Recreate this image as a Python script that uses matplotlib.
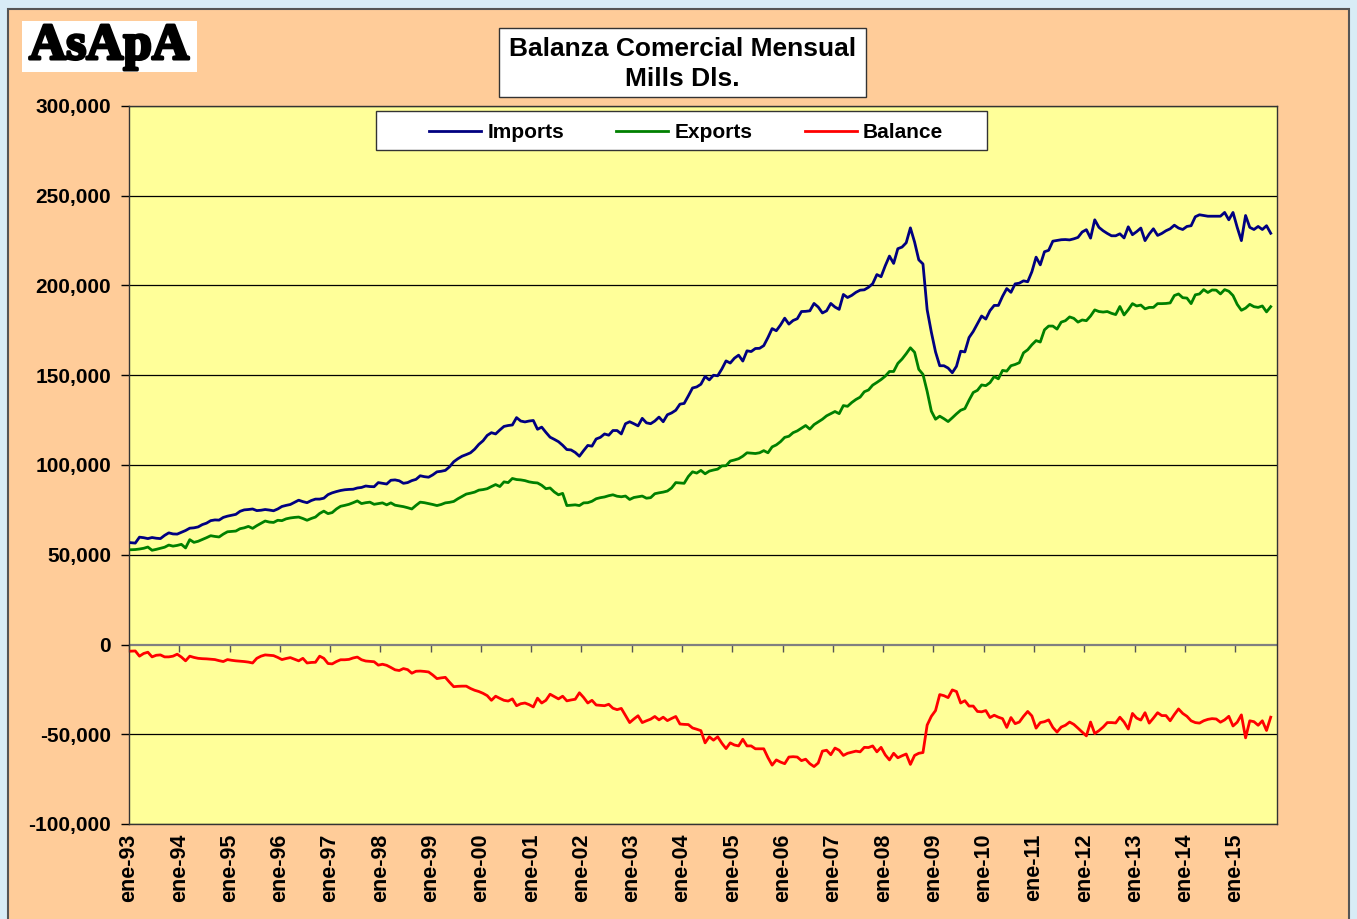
import numpy as np
import matplotlib
matplotlib.use("Agg")
import matplotlib.pyplot as plt
import matplotlib.patheffects as pe
from matplotlib.patches import Rectangle
from matplotlib.lines import Line2D
from matplotlib.ticker import FuncFormatter

# ---------------- data (thousands of millions USD, monthly from ene-93) ----------------
imports = [
    56.7, 56.5, 59.8, 59.5, 59.0, 59.6, 59.2, 59.0, 60.8, 62.2, 61.6, 61.5,
    62.5, 63.5, 64.8, 65.0, 65.5, 66.8, 67.6, 69.0, 69.4, 69.3, 70.8, 71.5,
    72.0, 72.5, 74.2, 75.0, 75.2, 75.5, 74.6, 74.8, 75.2, 74.9, 74.5, 75.5,
    76.9, 77.5, 78.0, 79.2, 80.4, 79.6, 79.0, 80.2, 81.0, 81.0, 81.5, 83.5,
    84.5, 85.2, 85.8, 86.2, 86.4, 86.5, 87.2, 87.5, 88.3, 88.0, 87.9, 90.2,
    89.8, 89.4, 91.5, 91.7, 91.2, 89.8, 90.2, 91.3, 92.0, 94.0, 93.5, 93.2,
    94.5, 96.2, 96.5, 97.0, 99.0, 101.8, 103.5, 104.9, 105.8, 106.8, 108.8, 111.5,
    113.5, 116.5, 118.0, 117.3, 119.5, 121.5, 122.0, 122.3, 126.4, 124.5, 124.0, 124.5,
    124.8, 119.9, 121.1, 118.2, 115.5, 114.3, 113.0, 111.0, 108.6, 108.4, 107.0, 104.9,
    108.0, 110.9, 110.5, 114.5, 115.4, 117.3, 116.6, 119.2, 119.2, 117.3, 123.0, 124.1,
    123.0, 121.8, 126.0, 123.5, 123.0, 124.5, 126.7, 124.1, 128.0, 129.0, 130.5, 133.9,
    134.3, 138.5, 142.9, 143.5, 145.0, 149.3, 147.4, 150.0, 149.7, 153.5, 158.0, 156.8,
    159.5, 161.2, 157.9, 163.6, 163.2, 164.9, 165.0, 166.5, 171.0, 176.0, 174.8, 178.0,
    181.8, 178.5, 180.5, 181.5, 185.5, 185.6, 185.9, 190.0, 188.0, 184.7, 185.9, 190.0,
    188.0, 186.7, 195.0, 193.3, 194.5, 196.2, 197.4, 197.6, 199.0, 201.0, 206.1, 204.9,
    211.0, 216.4, 212.3, 220.5, 221.4, 223.8, 232.1, 224.2, 214.3, 212.0, 186.5, 174.0,
    163.0, 155.3, 155.3, 154.0, 151.4, 155.0, 163.4, 163.0, 171.0, 174.4, 178.7, 183.0,
    181.3, 186.0, 188.9, 188.9, 194.0, 198.3, 196.2, 200.9, 201.3, 202.6, 202.1, 207.7,
    215.8, 211.5, 218.8, 219.6, 224.7, 225.1, 225.5, 225.6, 225.4, 226.0, 226.8, 229.8,
    231.1, 226.4, 236.6, 232.4, 230.5, 229.0, 227.7, 227.7, 228.8, 226.5, 232.7, 228.3,
    230.0, 232.0, 225.0, 228.7, 231.6, 227.9, 229.0, 230.5, 231.6, 233.6, 232.0, 231.2,
    232.9, 233.3, 238.3, 239.4, 239.0, 238.6, 238.6, 238.6, 238.6, 240.7, 236.6, 240.7,
    232.4, 225.0, 239.0, 232.4, 231.2, 232.9, 231.2, 233.3, 229.1,
]

exports = [
    52.8, 52.9, 53.2, 53.6, 54.3, 52.5, 53.0, 53.6, 54.2, 55.4, 54.8, 55.2,
    55.8, 53.8, 58.4, 56.9, 57.5, 58.5, 59.5, 60.6, 60.2, 59.9, 61.5, 62.8,
    63.0, 63.2, 64.5, 65.0, 65.8, 64.7, 66.2, 67.5, 68.8, 68.2, 68.0, 69.2,
    69.0, 70.0, 70.5, 70.8, 71.0, 70.2, 69.2, 70.2, 71.0, 73.0, 74.3, 72.9,
    73.5, 75.5, 77.0, 77.5, 78.1, 79.0, 80.0, 78.5, 79.0, 79.3, 78.1, 78.5,
    78.9, 77.8, 78.9, 77.6, 77.2, 76.8, 76.2, 75.5, 77.5, 79.3, 79.0, 78.5,
    78.0, 77.4, 78.0, 78.9, 79.2, 79.7, 81.2, 82.5, 83.8, 84.3, 84.9, 86.0,
    86.3, 86.8, 88.0, 89.1, 88.0, 90.6, 90.2, 92.5, 91.9, 91.7, 91.3, 90.6,
    90.2, 90.0, 88.7, 86.8, 87.2, 85.0, 83.4, 84.2, 77.4, 77.6, 77.8, 77.4,
    78.9, 79.0, 79.8, 81.2, 81.8, 82.2, 82.9, 83.4, 82.6, 82.3, 82.7, 80.8,
    81.9, 82.3, 82.7, 81.5, 81.8, 84.0, 84.5, 84.9, 85.5, 87.2, 90.2, 90.0,
    89.8, 93.6, 96.2, 95.5, 97.0, 95.1, 96.6, 97.2, 97.7, 99.5, 99.6, 102.2,
    102.8, 103.5, 104.9, 106.8, 106.6, 106.4, 106.8, 108.0, 106.8, 110.1, 111.2, 113.0,
    115.4, 116.0, 118.0, 119.0, 120.5, 122.0, 120.0, 122.5, 124.0, 125.5, 127.4, 128.6,
    129.8, 128.6, 133.1, 132.7, 134.8, 136.5, 137.8, 140.8, 141.8, 144.5, 146.0, 147.6,
    149.5, 152.1, 152.1, 156.6, 159.0, 162.0, 165.3, 162.8, 153.3, 150.5, 141.0, 130.0,
    125.5, 127.2, 125.8, 124.2, 126.3, 128.5, 130.5, 131.4, 136.1, 140.4, 141.6, 144.6,
    144.2, 145.9, 149.3, 148.0, 152.7, 152.3, 155.3, 156.0, 157.0, 162.5, 164.2, 167.0,
    169.3, 168.5, 175.3, 177.4, 177.4, 175.7, 179.6, 180.4, 182.5, 181.7, 179.6, 180.8,
    180.4, 183.0, 186.4, 185.5, 185.2, 185.5, 184.5, 183.8, 188.3, 183.6, 186.5, 189.9,
    188.6, 189.1, 187.0, 187.8, 187.8, 189.9, 189.9, 190.0, 190.3, 194.4, 195.3, 193.2,
    193.0, 189.9, 194.8, 195.3, 197.7, 196.1, 197.5, 197.4, 195.3, 197.7, 196.8, 194.4,
    189.5, 186.2, 187.4, 189.5, 188.2, 187.8, 188.6, 185.3, 188.2,
]

balance = [
    -3.7, -3.6, -6.5, -5.0, -4.3, -6.9, -6.0, -5.8, -6.9, -6.9, -6.5, -5.4,
    -7.0, -9.1, -6.5, -7.2, -7.7, -7.9, -8.0, -8.2, -8.4, -9.0, -9.5, -8.4,
    -8.8, -9.1, -9.3, -9.5, -9.8, -10.3, -7.7, -6.5, -5.8, -6.0, -6.2, -7.2,
    -8.4, -7.8, -7.3, -8.2, -9.1, -7.7, -10.3, -10.0, -9.9, -6.5, -7.7, -10.6,
    -10.8, -9.5, -8.5, -8.5, -8.3, -7.5, -7.0, -8.5, -9.2, -9.4, -9.6, -11.5,
    -11.0, -11.6, -12.8, -14.1, -14.5, -13.4, -14.0, -16.0, -14.9, -14.8, -15.0, -15.3,
    -17.0, -19.0, -18.6, -18.3, -21.0, -23.5, -23.3, -23.2, -23.2, -24.5, -25.5, -26.2,
    -27.2, -28.5, -31.1, -28.8, -30.0, -31.1, -31.5, -30.3, -34.1, -33.0, -32.6, -33.5,
    -34.8, -29.9, -32.6, -31.1, -27.7, -29.0, -30.3, -28.8, -31.4, -30.9, -30.5, -26.9,
    -29.5, -32.6, -31.1, -33.7, -33.9, -34.1, -33.3, -35.5, -36.3, -35.6, -39.5, -43.5,
    -41.5, -39.7, -43.5, -42.5, -41.6, -40.1, -42.0, -40.5, -42.4, -41.2, -40.1, -44.3,
    -44.5, -44.6, -46.5, -47.2, -48.0, -54.8, -51.4, -53.3, -51.4, -55.0, -58.0, -54.8,
    -56.0, -56.5, -52.8, -56.5, -56.5, -58.1, -58.1, -58.1, -63.0, -67.2, -64.3, -65.5,
    -66.4, -62.7, -62.5, -62.7, -64.7, -63.9, -66.4, -68.0, -66.0, -59.4, -58.9, -61.4,
    -57.7, -58.9, -61.8, -60.6, -60.0, -59.4, -59.8, -57.3, -57.4, -56.5, -59.8, -57.3,
    -61.5, -64.3, -60.6, -63.1, -62.0, -61.0, -66.8, -61.8, -60.6, -60.2, -44.9, -40.0,
    -36.8, -27.9, -28.5, -29.6, -25.3, -26.2, -32.6, -31.3, -34.3, -34.3, -37.3, -37.5,
    -36.8, -40.7, -39.4, -40.5, -41.3, -46.2, -40.7, -44.1, -43.2, -40.0, -37.3, -39.8,
    -46.6, -43.5, -43.0, -42.0, -46.2, -48.8, -46.0, -45.0, -43.2, -44.5, -46.6, -48.8,
    -50.9, -43.2, -49.6, -48.0, -46.0, -43.5, -43.5, -43.7, -40.5, -43.2, -47.1, -38.4,
    -41.0, -42.1, -38.0, -43.8, -41.0, -38.0, -39.6, -39.6, -42.5, -39.0, -35.9, -38.4,
    -40.0, -42.5, -43.5, -43.8, -42.5, -41.7, -41.3, -41.5, -43.3, -42.0, -40.0, -45.4,
    -43.3, -39.2, -52.0, -42.5, -43.0, -45.0, -42.5, -47.9, -40.5,
]

years = list(range(1993, 2016))
tick_labels = ["ene-%02d" % (y % 100) for y in years]
series_names = ["Imports", "Exports", "Balance"]
series_colors = ["#000080", "#008000", "#FF0000"]
n_categories = 274  # ene-93 .. oct-15 (last category empty)

# ---------------- figure ----------------
W, H = 1357, 919
FONT = "Liberation Sans"
plt.rcParams["font.family"] = [FONT, "DejaVu Sans"]

fig = plt.figure(figsize=(W / 100, H / 100), dpi=100)
fig.patch.set_facecolor("#D8ECF6")


def fx(px):
    return px / W


def fy(py):
    return 1 - py / H


# peach chart area
fig.add_artist(Rectangle((fx(8), fy(930)), fx(1349) - fx(8), fy(9) - fy(930),
                         transform=fig.transFigure, facecolor="#FFCC99",
                         edgecolor="#555555", linewidth=1.5, zorder=0))

# logo
fig.add_artist(Rectangle((fx(22), fy(72)), fx(197) - fx(22), fy(21) - fy(72),
                         transform=fig.transFigure, facecolor="white",
                         edgecolor="none", zorder=1))
fig.text(fx(109), fy(59), "AsApA", ha="center", va="baseline",
         family=["Liberation Serif", "DejaVu Serif"], fontweight="bold",
         fontsize=37, color="black", zorder=2,
         path_effects=[pe.withStroke(linewidth=2.2, foreground="black")])

# title box
fig.add_artist(Rectangle((fx(499), fy(97)), fx(866) - fx(499), fy(28) - fy(97),
                         transform=fig.transFigure, facecolor="white",
                         edgecolor="#333333", linewidth=1.0, zorder=1))
fig.text(fx(682.5), fy(49), "Balanza Comercial Mensual", ha="center", va="center",
         fontsize=19, fontweight="bold", zorder=2)
fig.text(fx(682.5), fy(79), "Mills Dls.", ha="center", va="center",
         fontsize=19, fontweight="bold", zorder=2)

# plot area
ax = fig.add_axes([fx(129), fy(824), fx(1277) - fx(129), fy(106) - fy(824)])
ax.set_facecolor("#FFFF99")
ax.set_xlim(0, n_categories)
ax.set_ylim(-100000, 300000)

yt = np.arange(-100000, 300001, 50000)
ax.set_yticks(yt)
ax.yaxis.set_major_formatter(FuncFormatter(lambda v, p: "{:,.0f}".format(v)))
for v in yt:
    if v != 0:
        ax.axhline(v, color="black", linewidth=0.9, zorder=1)
ax.axhline(0, color="#808080", linewidth=1.6, zorder=1)

for name, vals, col in zip(series_names, [imports, exports, balance], series_colors):
    xs = np.arange(len(vals)) + 0.5
    ax.plot(xs, np.array(vals) * 1000, color=col, linewidth=2.0, zorder=3,
            solid_joinstyle="round")

xt = np.arange(0, 12 * len(years), 12)
ax.set_xticks(xt)
ax.set_xticklabels(tick_labels, rotation=90, fontsize=15.5, fontweight="bold")
ax.tick_params(axis="x", length=0, pad=7)
ax.tick_params(axis="y", direction="out", length=6, width=1, pad=7,
               labelsize=15)
for lab in ax.get_yticklabels():
    lab.set_fontweight("bold")

for s in ax.spines.values():
    s.set_color("#333333")
    s.set_linewidth(1.0)

# ticks on the zero line
sec = ax.secondary_xaxis(0.25)
sec.set_xticks(xt)
sec.xaxis.set_ticks_position("bottom")
sec.tick_params(axis="x", direction="out", length=6, width=1, color="#555555",
                labelbottom=False, labeltop=False)
sec.spines["bottom"].set_visible(False)
sec.spines["top"].set_visible(False)

# legend box
fig.add_artist(Rectangle((fx(376), fy(150)), fx(987) - fx(376), fy(111) - fy(150),
                         transform=fig.transFigure, facecolor="white",
                         edgecolor="#333333", linewidth=1.0, zorder=4))
handles = [Line2D([], [], color=c, linewidth=2.0) for c in series_colors]
leg = fig.legend(handles, series_names, loc="center",
                 bbox_to_anchor=(fx(686), fy(132.5)), ncol=3, frameon=False,
                 handlelength=2.5, handletextpad=0.3, columnspacing=2.5,
                 prop={"family": FONT, "weight": "bold", "size": 15})
leg.set_zorder(5)

fig.savefig("out.png", dpi=100, facecolor=fig.get_facecolor())
